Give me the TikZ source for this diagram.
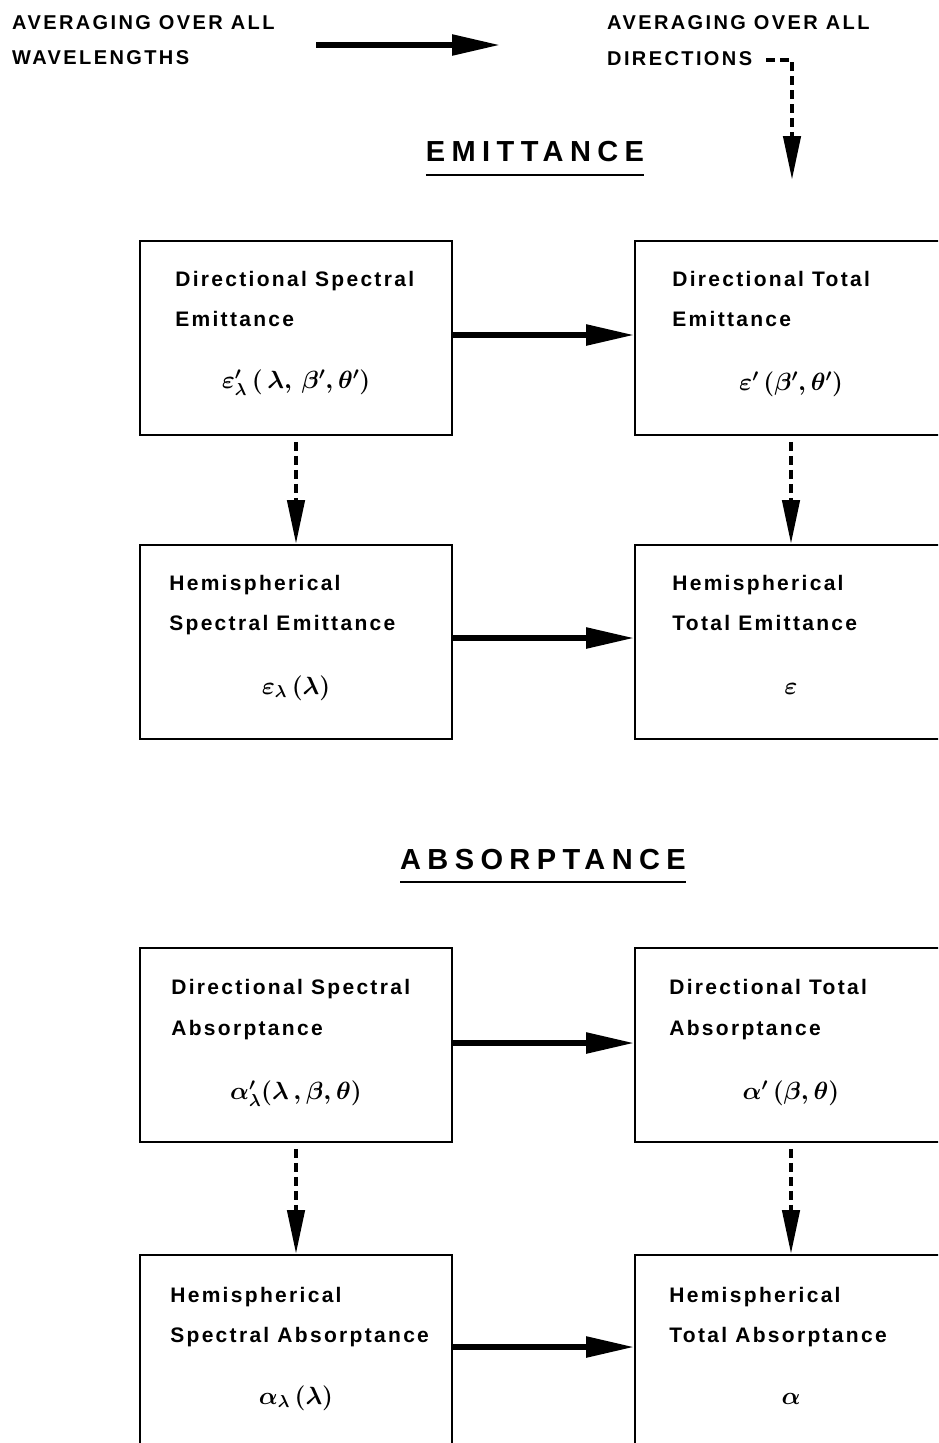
\documentclass[tikz,border=0pt]{standalone}
\usepackage{fontspec}
\setmainfont{Liberation Sans}
\newfontfamily\capsfont{Liberation Sans}[LetterSpace=12]
\newfontfamily\boxsfont{Liberation Sans}[LetterSpace=11]
\newfontfamily\headfont{Liberation Sans}[LetterSpace=22]
\usetikzlibrary{arrows.meta}
\tikzset{
  radbox/.style={draw,line width=1.8pt,minimum width=312pt,minimum height=194pt,inner sep=0pt},
  lbl/.style={anchor=base west,inner sep=0pt,font=\boxsfont\bfseries\fontsize{21}{23}\selectfont},
  frm/.style={anchor=base,inner sep=0pt,font=\fontsize{26}{30}\selectfont\boldmath},
  capt/.style={anchor=base west,inner sep=0pt,font=\capsfont\bfseries\fontsize{20}{22}\selectfont},
  ttl/.style={anchor=base,inner sep=0pt,font=\headfont\bfseries\fontsize{29}{32}\selectfont},
  solidarr/.style={line width=5.5pt,-{Triangle[length=48pt,width=20pt]}},
  dasharr/.style={line width=4.5pt,dash pattern=on 9pt off 5pt,-{Triangle[length=44pt,width=17pt]}}
}

\begin{document}
\begin{tikzpicture}[x=1pt,y=-1pt]
  \useasboundingbox (0,0) rectangle (938,1443);
  \clip (0,0) rectangle (938,1443);
  % legend
  \node[capt] (wl1) at (12,29) {AVERAGING OVER ALL};
  \node[capt] (wl2) at (12,64) {WAVELENGTHS};
  \node[capt] (dr1) at (607,29) {AVERAGING OVER ALL};
  \node[capt] (dr2) at (607,65) {DIRECTIONS};
  \coordinate (wlfrom) at (316,45);
  \coordinate (wlto) at (500,45);
  \coordinate (drto) at (792,180);
  \draw[solidarr] (wlfrom) -- (wlto);
  \draw[dasharr] ([xshift=14pt,yshift=5pt]dr2.base east) -| (drto);
  % emittance
  \node[ttl] (emt) at (535,161) {EMITTANCE};
  \draw[line width=2.6pt] ([yshift=-14pt]emt.base west) -- ([yshift=-14pt]emt.base east);
  \node[radbox] (dse) at (296,338) {};
  \node[radbox] (dte) at (791,338) {};
  \node[radbox] (hse) at (296,642) {};
  \node[radbox] (hte) at (791,642) {};
  \node[lbl] (dse1) at ([xshift=36pt,yshift=-46pt]dse.north west) {Directional Spectral};
  \node[lbl] (dse2) at ([xshift=36pt,yshift=-86pt]dse.north west) {Emittance};
  \node[frm] (dsef) at ([yshift=-148pt]dse.north) {$\varepsilon'_{\lambda}\,(\,\lambda,\,\beta',\theta')$};
  \node[lbl] (dte1) at ([xshift=38pt,yshift=-46pt]dte.north west) {Directional Total};
  \node[lbl] (dte2) at ([xshift=38pt,yshift=-86pt]dte.north west) {Emittance};
  \node[frm] (dtef) at ([yshift=-150pt]dte.north) {$\varepsilon'\,(\beta',\theta')$};
  \node[lbl] (hse1) at ([xshift=30pt,yshift=-46pt]hse.north west) {Hemispherical};
  \node[lbl] (hse2) at ([xshift=30pt,yshift=-86pt]hse.north west) {Spectral Emittance};
  \node[frm] (hsef) at ([yshift=-150pt]hse.north) {$\varepsilon_{\lambda}\,(\lambda)$};
  \node[lbl] (hte1) at ([xshift=38pt,yshift=-46pt]hte.north west) {Hemispherical};
  \node[lbl] (hte2) at ([xshift=38pt,yshift=-86pt]hte.north west) {Total Emittance};
  \node[frm] (htef) at ([yshift=-150pt]hte.north) {$\varepsilon$};
  \draw[solidarr] ([yshift=3pt]dse.east) -- ([yshift=3pt]dte.west);
  \draw[solidarr] ([yshift=4pt]hse.east) -- ([yshift=4pt]hte.west);
  \draw[dasharr] ([yshift=-6pt]dse.south) -- (hse.north);
  \draw[dasharr] ([yshift=-6pt]dte.south) -- (hte.north);
  % absorptance
  \node[ttl] (abt) at (543,869) {ABSORPTANCE};
  \draw[line width=2.6pt] ([yshift=-13pt]abt.base west) -- ([yshift=-13pt]abt.base east);
  \node[radbox] (dsa) at (296,1045) {};
  \node[radbox] (dta) at (791,1045) {};
  \node[radbox] (hsa) at (296,1352) {};
  \node[radbox] (hta) at (791,1352) {};
  \node[lbl] (dsa1) at ([xshift=32pt,yshift=-47pt]dsa.north west) {Directional Spectral};
  \node[lbl] (dsa2) at ([xshift=32pt,yshift=-88pt]dsa.north west) {Absorptance};
  \node[frm] (dsaf) at ([yshift=-152pt]dsa.north) {$\alpha'_{\lambda}(\lambda\,,\beta,\theta)$};
  \node[lbl] (dta1) at ([xshift=35pt,yshift=-47pt]dta.north west) {Directional Total};
  \node[lbl] (dta2) at ([xshift=35pt,yshift=-88pt]dta.north west) {Absorptance};
  \node[frm] (dtaf) at ([yshift=-152pt]dta.north) {$\alpha'\,(\beta,\theta)$};
  \node[lbl] (hsa1) at ([xshift=31pt,yshift=-48pt]hsa.north west) {Hemispherical};
  \node[lbl] (hsa2) at ([xshift=31pt,yshift=-88pt]hsa.north west) {Spectral Absorptance};
  \node[frm] (hsaf) at ([yshift=-150pt]hsa.north) {$\alpha_{\lambda}\,(\lambda)$};
  \node[lbl] (hta1) at ([xshift=35pt,yshift=-48pt]hta.north west) {Hemispherical};
  \node[lbl] (hta2) at ([xshift=35pt,yshift=-88pt]hta.north west) {Total Absorptance};
  \node[frm] (htaf) at ([yshift=-150pt]hta.north) {$\alpha$};
  \draw[solidarr] ([yshift=2pt]dsa.east) -- ([yshift=2pt]dta.west);
  \draw[solidarr] ([yshift=5pt]hsa.east) -- ([yshift=5pt]hta.west);
  \draw[dasharr] ([yshift=-6pt]dsa.south) -- (hsa.north);
  \draw[dasharr] ([yshift=-6pt]dta.south) -- (hta.north);
\end{tikzpicture}
\end{document}
